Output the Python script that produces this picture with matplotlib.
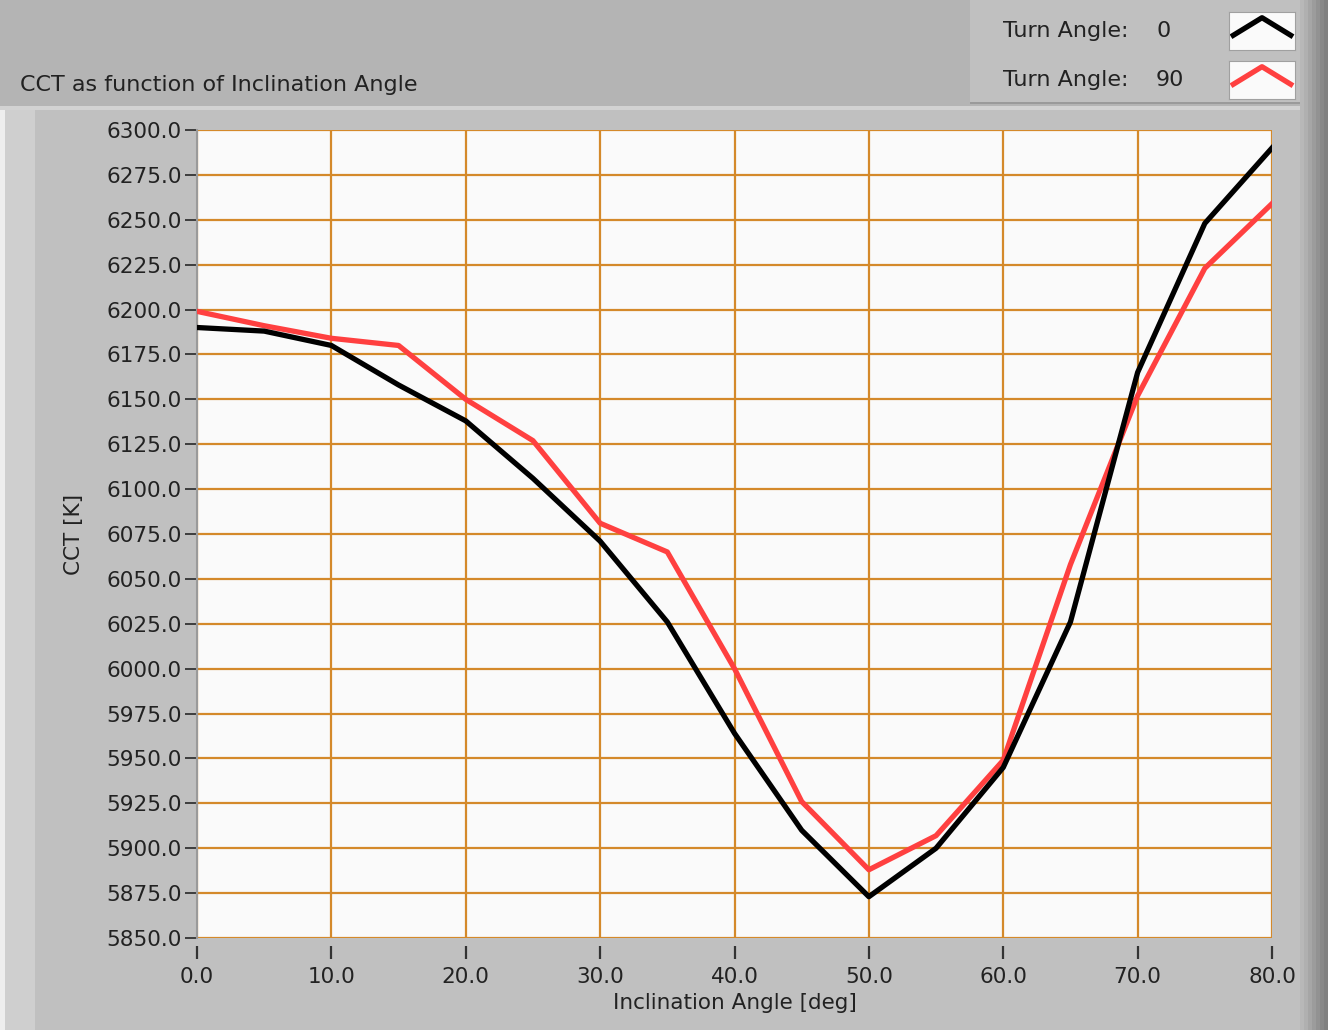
import matplotlib
matplotlib.use("Agg")
import matplotlib.pyplot as plt
from matplotlib.patches import Rectangle
from matplotlib.ticker import FormatStrFormatter, MultipleLocator

# ---- data ----
inclination = [0, 5, 10, 15, 20, 25, 30, 35, 40, 45, 50, 55, 60, 65, 70, 75, 80]
cct_turn0 = [6190, 6188, 6180, 6158, 6138, 6106, 6071, 6026, 5964, 5910, 5873,
             5900, 5945, 6026, 6165, 6248, 6290]
cct_turn90 = [6199, 6191, 6184, 6180, 6150, 6127, 6081, 6065, 6000, 5926, 5888,
              5907, 5949, 6058, 6152, 6223, 6259]
series_labels = ["Turn Angle:", "Turn Angle:"]
series_values = ["0", "90"]
series_colors = ["#000000", "#ff4040"]
title = "CCT as function of Inclination Angle"
xlabel = "Inclination Angle [deg]"
ylabel = "CCT [K]"

W, H = 1328, 1030
fig = plt.figure(figsize=(W / 100, H / 100), dpi=100)
fig.patch.set_facecolor("#c0c0c0")

def px_rect(x0, y0, x1, y1, color, z=0, **kw):
    fig.patches.append(Rectangle((x0 / W, 1 - y1 / H), (x1 - x0) / W, (y1 - y0) / H,
                                 transform=fig.transFigure, facecolor=color,
                                 edgecolor=kw.pop("ec", "none"), zorder=z, **kw))

# header band
px_rect(0, 0, W, 106, "#b4b4b4")
px_rect(0, 106, W, 110, "#d2d2d2")
# left light stripe
px_rect(0, 110, 5, H, "#eeeeee")
px_rect(5, 110, 35, H, "#cfcfcf")
# right dark gradient
shades = ["#b8b8b8", "#b0b0b0", "#a6a6a6", "#9c9c9c", "#929292", "#888888", "#808080"]
for i, c in enumerate(shades):
    px_rect(1300 + i * 4, 0, 1304 + i * 4, H, c)
# legend panel
px_rect(970, 0, 1300, 104, "#c0c0c0", z=0.1)
px_rect(970, 102, 1300, 104, "#9a9a9a", z=0.1)

# ---- main axes ----
L, R, T, B = 197, 1272, 130, 938
ax = fig.add_axes([L / W, 1 - B / H, (R - L) / W, (B - T) / H])
ax.set_zorder(1)
ax.set_facecolor("#fafafa")
ax.plot(inclination, cct_turn90, color=series_colors[1], lw=3.8, zorder=3)
ax.plot(inclination, cct_turn0, color=series_colors[0], lw=3.8, zorder=4)
ax.set_xlim(0, 80)
ax.set_ylim(5850, 6300)
ax.xaxis.set_major_locator(MultipleLocator(10))
ax.yaxis.set_major_locator(MultipleLocator(25))
ax.xaxis.set_major_formatter(FormatStrFormatter("%.1f"))
ax.yaxis.set_major_formatter(FormatStrFormatter("%.1f"))
ax.grid(True, color="#d4892a", lw=1.6)
ax.set_axisbelow(True)
for s in ["top", "right"]:
    ax.spines[s].set_visible(False)
ax.spines["left"].set_color("#9a9a9a")
ax.spines["left"].set_linewidth(1.5)
ax.spines["bottom"].set_position(("outward", 6))
ax.spines["bottom"].set_visible(False)
ax.tick_params(axis="y", direction="out", length=9, width=1.3, color="#333333",
               labelsize=15.5, labelcolor="#222222", pad=2)
ax.tick_params(axis="x", direction="out", length=9, width=1.6, color="#333333",
               labelsize=15.5, labelcolor="#222222", pad=6)
ax.set_xlabel(xlabel, fontsize=15.5, color="#222222", labelpad=4)
ax.set_ylabel(ylabel, fontsize=15.5, color="#222222")
ax.yaxis.set_label_coords((84 - L) / (R - L), 0.5)

# title
fig.text(20 / W, 1 - 85 / H, title, fontsize=16, color="#222222", va="center", ha="left")

# legend
for i, (lab, val, col) in enumerate(zip(series_labels, series_values, series_colors)):
    yc = 31 + i * 49
    fig.text(1003 / W, 1 - yc / H, lab, fontsize=16, color="#222222", va="center", ha="left")
    fig.text(1156 / W, 1 - yc / H, val, fontsize=16, color="#222222", va="center", ha="left")
    sw = fig.add_axes([1229 / W, 1 - (yc + 19) / H, 66 / W, 38 / H])
    sw.set_zorder(2)
    sw.set_facecolor("#fafafa")
    sw.set_xlim(0, 1)
    sw.set_ylim(0, 1)
    sw.plot([0.03, 0.5, 0.97], [0.35, 0.85, 0.35], color=col, lw=3.8,
            solid_capstyle="butt", clip_on=True)
    sw.set_xticks([])
    sw.set_yticks([])
    for s in sw.spines.values():
        s.set_color("#a0a0a0")

fig.savefig("out.png", dpi=100, facecolor=fig.get_facecolor())
